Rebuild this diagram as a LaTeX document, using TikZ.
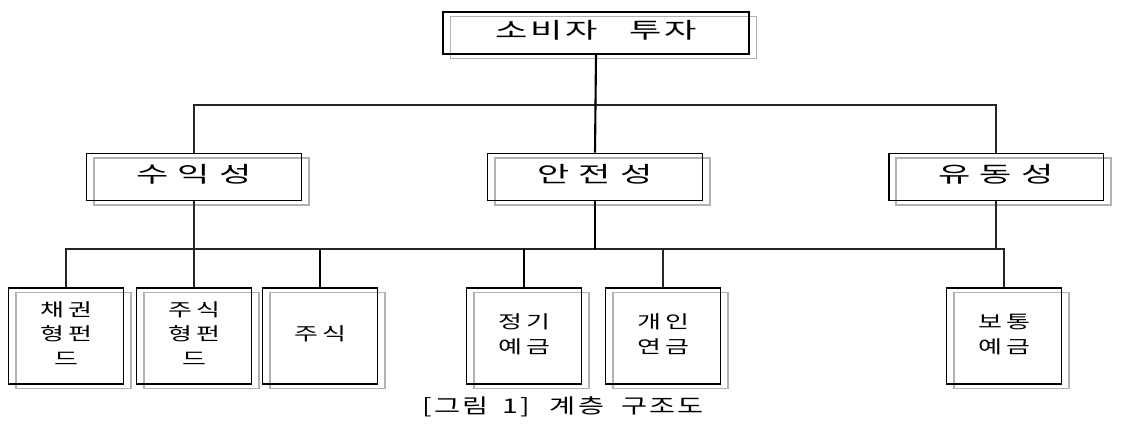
\documentclass[tikz,border=0pt]{standalone}
\usepackage{fontspec}
\usepackage{graphicx}
\newfontfamily\krhead{Noto Sans CJK KR}[LetterSpace=8]
\newfontfamily\krmid{Noto Sans CJK KR}[LetterSpace=26]
\newfontfamily\krleaf{Noto Sans CJK KR}[LetterSpace=16]
\newfontfamily\krcap{Noto Sans CJK KR}[LetterSpace=8]
% Hangul in the figure is set wide
\newcommand\widetext[2][1.6]{\scalebox{#1}[1]{\begin{tabular}{@{}c@{}}#2\end{tabular}}}
\usetikzlibrary{positioning,shadows}
\tikzset{
	shadowbox/.style={draw=black, line width=1.1pt, inner sep=0pt, align=center,
		general shadow={shadow xshift=0.15cm, shadow yshift=-0.09cm,
			draw=gray!60, line width=1pt, fill=none}},
	headbox/.style={shadowbox, minimum width=6.12cm, minimum height=0.84cm,
		font=\krhead\fontsize{12.5pt}{15pt}\selectfont},
	midbox/.style={shadowbox, minimum width=4.3cm, minimum height=0.94cm,
		font=\krmid\fontsize{12.5pt}{15pt}\selectfont},
	leafbox/.style={shadowbox, minimum width=2.3cm, minimum height=1.92cm,
		font=\krleaf\fontsize{10.2pt}{13.9pt}\selectfont},
	link/.style={line width=0.6pt, draw=black!85},
	thicklink/.style={line width=1.2pt, draw=black}
}
\begin{document}
\begin{tikzpicture}[x=0.02cm, y=-0.02cm]
	\useasboundingbox (0,0) rectangle (1125,427);
	
	%% -- goal
	\node[headbox] (goal) at (596,33) {\widetext{소비자\hspace{0.9em}투자}};
	
	%% -- criteria
	\node[midbox] (suik) at (194,177) {\widetext{수익성}};
	\node[midbox] (anjeon) at (595,177) {\widetext{안전성}};
	\node[midbox] (yudong) at (996,177) {\widetext{유동성}};
	
	%% -- alternatives
	\node[leafbox] (bond) at (66,336) {\widetext[1.45]{채권\\형펀\\드}};
	\node[leafbox] (stockfund) at (194,336) {\widetext[1.45]{주식\\형펀\\드}};
	\node[leafbox] (stock) at (320,336) {\widetext[1.45]{주식}};
	\node[leafbox] (fixed) at (524,336) {\widetext[1.45]{정기\\예금}};
	\node[leafbox] (pension) at (663,336) {\widetext[1.45]{개인\\연금}};
	\node[leafbox] (savings) at (1004,336) {\widetext[1.45]{보통\\예금}};
	
	%% -- upper bus
	\coordinate (hubA) at (596,105);
	\draw[link] (suik.north) -- (suik.north |- hubA) -- (yudong.north |- hubA) -- (yudong.north);
	\draw[thicklink] (goal.south) -- (anjeon.north);
	
	%% -- lower bus
	\coordinate (hubB) at (596,249);
	\draw[link] (bond.north) -- (bond.north |- hubB) -- (savings.north |- hubB) -- (savings.north);
	\draw[link] (suik.south) -- (suik.south |- hubB);
	\draw[thicklink] (anjeon.south) -- (anjeon.south |- hubB);
	\draw[link] (yudong.south) -- (yudong.south |- hubB);
	\draw[link] (stockfund.north) -- (stockfund.north |- hubB);
	\draw[thicklink] (stock.north) -- (stock.north |- hubB);
	\draw[thicklink] (fixed.north) -- (fixed.north |- hubB);
	\draw[link] (pension.north) -- (pension.north |- hubB);
	
	%% -- caption
	\node[font=\krcap\fontsize{11.5pt}{14pt}\selectfont] (caption) at (563,409)
		{\widetext[1.4]{[그림\hspace{0.5em}1]\hspace{0.7em}계층\hspace{0.6em}구조도}};
\end{tikzpicture}
\end{document}
